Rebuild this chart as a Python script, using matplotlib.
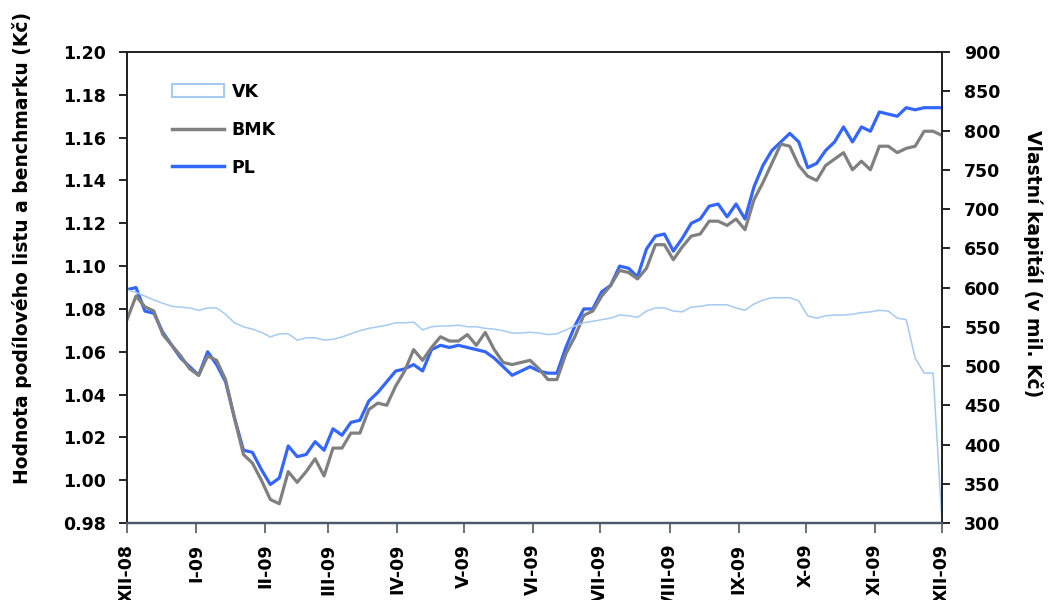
import matplotlib
matplotlib.use("Agg")
import matplotlib.pyplot as plt
from matplotlib.patches import Patch
from matplotlib.lines import Line2D
import pandas as pd

# values, one sample roughly every 4 days (1.12.2008 - 1.12.2009)
start_date = "2008-12-01"
end_date = "2009-12-01"

pl_values = [1.089, 1.090, 1.079, 1.078, 1.069, 1.063, 1.057, 1.053, 1.049, 1.060,
             1.054, 1.046, 1.029, 1.014, 1.013, 1.005, 0.998, 1.001, 1.016, 1.011,
             1.012, 1.018, 1.014, 1.024, 1.021, 1.027, 1.028, 1.037, 1.041, 1.046,
             1.051, 1.052, 1.054, 1.051, 1.061, 1.063, 1.062, 1.063, 1.062, 1.061,
             1.060, 1.057, 1.053, 1.049, 1.051, 1.053, 1.051, 1.050, 1.050, 1.062,
             1.072, 1.080, 1.080, 1.088, 1.091, 1.100, 1.099, 1.095, 1.108, 1.114,
             1.115, 1.107, 1.113, 1.120, 1.122, 1.128, 1.129, 1.123, 1.129, 1.122,
             1.137, 1.147, 1.154, 1.158, 1.162, 1.158, 1.146, 1.148, 1.154, 1.158,
             1.165, 1.158, 1.165, 1.163, 1.172, 1.171, 1.170, 1.174, 1.173, 1.174,
             1.174, 1.174]

bmk_values = [1.075, 1.086, 1.081, 1.079, 1.068, 1.063, 1.058, 1.052, 1.049, 1.058,
              1.056, 1.047, 1.029, 1.012, 1.008, 1.000, 0.991, 0.989, 1.004, 0.999,
              1.004, 1.010, 1.002, 1.015, 1.015, 1.022, 1.022, 1.033, 1.036, 1.035,
              1.044, 1.051, 1.061, 1.056, 1.062, 1.067, 1.065, 1.065, 1.068, 1.063,
              1.069, 1.061, 1.055, 1.054, 1.055, 1.056, 1.052, 1.047, 1.047, 1.059,
              1.067, 1.077, 1.079, 1.086, 1.091, 1.098, 1.097, 1.094, 1.099, 1.110,
              1.110, 1.103, 1.109, 1.114, 1.115, 1.121, 1.121, 1.119, 1.122, 1.117,
              1.131, 1.139, 1.148, 1.157, 1.156, 1.147, 1.142, 1.140, 1.147, 1.150,
              1.153, 1.145, 1.149, 1.145, 1.156, 1.156, 1.153, 1.155, 1.156, 1.163,
              1.163, 1.161]

vk_values = [597, 594, 589, 584, 580, 576, 575, 574, 571, 574,
             574, 566, 555, 550, 547, 543, 537, 541, 541, 533,
             536, 536, 533, 534, 537, 541, 545, 548, 550, 552,
             555, 555, 556, 546, 550, 551, 551, 552, 550, 550,
             548, 547, 545, 542, 542, 543, 542, 540, 541, 546,
             551, 555, 557, 559, 561, 565, 564, 562, 570, 574,
             574, 570, 569, 575, 576, 578, 578, 578, 574, 571,
             579, 584, 587, 587, 587, 583, 564, 561, 564, 565,
             565, 566, 568, 569, 571, 570, 561, 559, 510, 491,
             491, 300]

month_labels = ["XII-08", "I-09", "II-09", "III-09", "IV-09", "V-09", "VI-09",
                "VII-09", "VIII-09", "IX-09", "X-09", "XI-09", "XII-09"]

dates = pd.date_range(start_date, end_date, periods=len(pl_values))
month_ticks = pd.date_range(start_date, end_date, freq="MS")

PL_COLOR = "#3366ff"
BMK_COLOR = "#808080"
VK_COLOR = "#a6caf0"
FONT = dict(family="DejaVu Sans", weight="bold", size=12.5)
LABEL_FONT = dict(family="DejaVu Sans", weight="bold", size=13.5)

fig = plt.figure(figsize=(10.48, 6), dpi=100)
ax = fig.add_axes([0.1212, 0.1283, 0.7777, 0.785])
ax2 = ax.twinx()

ax.plot(dates, pl_values, color=PL_COLOR, lw=2.3, zorder=2)
ax.plot(dates, bmk_values, color=BMK_COLOR, lw=2.3, zorder=3)
ax2.plot(dates, vk_values, color=VK_COLOR, lw=1.1)

ax.set_xlim(pd.Timestamp(start_date), pd.Timestamp(end_date))
ax.set_ylim(0.98, 1.20)
ax.set_yticks([0.98 + 0.02 * i for i in range(12)])
ax.set_yticklabels([f"{0.98 + 0.02 * i:.2f}" for i in range(12)], **FONT)
ax2.set_ylim(300, 900)
ax2.set_yticks(range(300, 901, 50))
ax2.set_yticklabels([str(v) for v in range(300, 901, 50)], **FONT)

ax.set_xticks(month_ticks)
ax.set_xticklabels(month_labels, rotation=90, ha="center", va="top", **FONT)

ax.tick_params(axis="y", length=6, width=1.2, pad=9)
ax2.tick_params(axis="y", length=6, width=1.2, pad=10)
ax.tick_params(axis="x", length=7, width=1.2, pad=8, color="#4a5a6a")

for a in (ax, ax2):
    for side in ("left", "right", "top"):
        a.spines[side].set_linewidth(1.3)
        a.spines[side].set_color("#222222")
    a.spines["bottom"].set_linewidth(1.6)
    a.spines["bottom"].set_color("#4a5a6a")

ax.set_ylabel("Hodnota podílového listu a benchmarku (Kč)", **LABEL_FONT)
ax.yaxis.set_label_coords(-0.116, 0.585)
ax2.set_ylabel("Vlastní kapitál (v mil. Kč)", rotation=270, **LABEL_FONT)
ax2.yaxis.set_label_coords(1.124, 0.55)

handles = [Patch(facecolor="white", edgecolor=VK_COLOR, lw=1.5),
           Line2D([], [], color=BMK_COLOR, lw=2.5),
           Line2D([], [], color=PL_COLOR, lw=2.5)]
ax2.legend(handles, ["VK", "BMK", "PL"], loc="upper left",
           bbox_to_anchor=(0.055, 0.935), frameon=False, borderpad=0,
           borderaxespad=0, handlelength=3.0, handletextpad=0.45,
           labelspacing=1.15, prop=dict(family="DejaVu Sans", weight="bold", size=12.5))

fig.savefig("out.png", dpi=100)
